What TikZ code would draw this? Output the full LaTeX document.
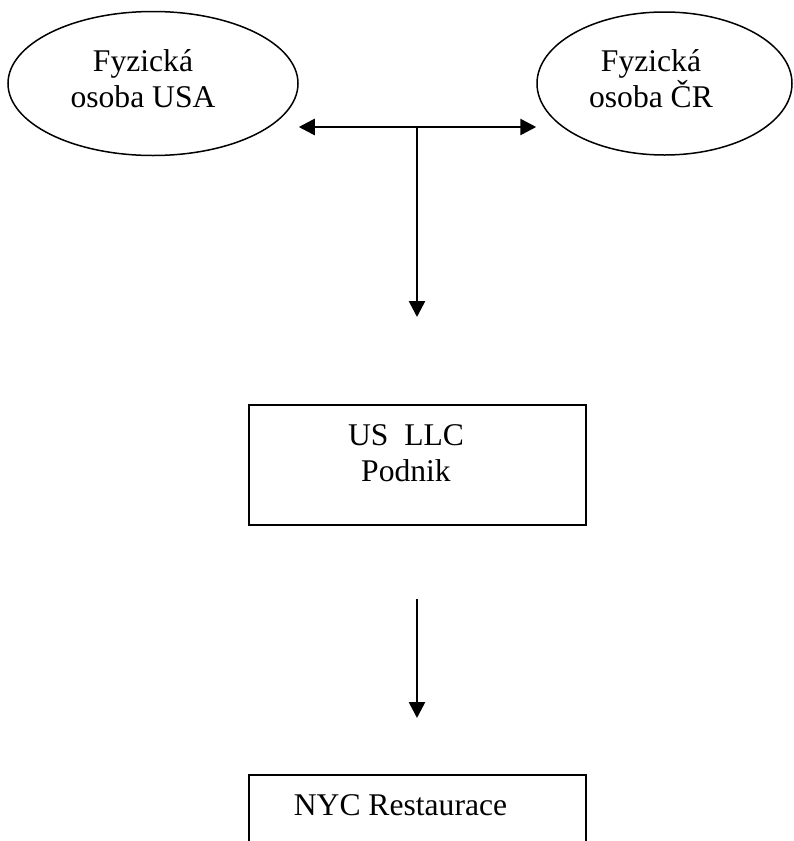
\documentclass[tikz,border=0pt]{standalone}
\usepackage{fontspec}
\setmainfont{Liberation Serif}
\usetikzlibrary{positioning}
\usetikzlibrary{shapes,arrows.meta}
\tikzset{osoba/.style={draw,ellipse,line width=1.5pt,inner sep=0pt}}
\tikzset{firma/.style={draw,rectangle,line width=2pt,inner sep=0pt,minimum width=337pt,minimum height=120pt}}
\tikzset{popis/.style={align=center,inner sep=0pt,font=\fontsize{31.6pt}{36pt}\selectfont}}
\tikzset{conn/.style={line width=2.6pt,>={Triangle[length=16pt,width=16pt]}}}

\begin{document}
\begin{tikzpicture}[x=1pt,y=-1pt]
\clip (0,0) rectangle (793,841);
\node[osoba,minimum width=290pt,minimum height=144pt] (usa) at (153,83.5) {};
\node[osoba,minimum width=255pt,minimum height=143pt] (cr) at (664.5,83.5) {};
\node[popis] (usatext) at (143,79) {Fyzická\\osoba USA};
\node[popis] (crtext) at (651,79) {Fyzická\\osoba ČR};
\node[firma] (llc) at (417.5,465) {};
\node[popis] (llctext) at (406,453) {US\ \ LLC\\Podnik};
\node[firma,anchor=north] (nyc) at (417.5,774) {};
\node[popis] (nyctext) at (400.5,805) {NYC Restaurace};
\coordinate (split) at (417,127);
\draw[conn,<->] (usa.east |- split) -- (cr.west |- split);
\draw[conn,->] (split) -- ([yshift=87pt]llc.north -| split);
\draw[conn,->] ([yshift=-73pt]llc.south -| split) -- ([yshift=56pt]nyc.north -| split);
\end{tikzpicture}
\end{document}
